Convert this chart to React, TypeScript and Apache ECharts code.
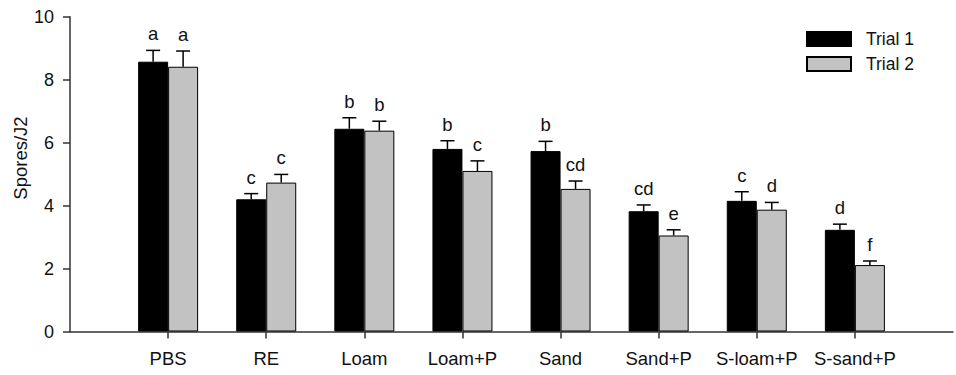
import React, { useEffect, useRef } from "react";
import * as echarts from "echarts";

const categories = ["PBS", "RE", "Loam", "Loam+P", "Sand", "Sand+P", "S-loam+P", "S-sand+P"];
const trial1 = [8.57, 4.2, 6.44, 5.8, 5.73, 3.82, 4.15, 3.23];
const trial1Err = [0.36, 0.18, 0.35, 0.26, 0.31, 0.2, 0.29, 0.18];
const trial1Letters = ["a", "c", "b", "b", "b", "cd", "c", "d"];
const trial2 = [8.41, 4.73, 6.38, 5.1, 4.53, 3.05, 3.87, 2.11];
const trial2Err = [0.5, 0.26, 0.3, 0.32, 0.25, 0.18, 0.23, 0.13];
const trial2Letters = ["a", "c", "b", "c", "cd", "e", "d", "f"];
const yTicks = [0, 2, 4, 6, 8, 10];

const FONT = "'Liberation Sans', Arial, sans-serif";

export default function App() {
  const ref = useRef<HTMLDivElement>(null);
  useEffect(() => {
    if (!ref.current) return;
    const chart = echarts.init(ref.current, undefined, { renderer: "svg" });
    const axisCats = ["", ...categories, ""];
    const pad = (arr: number[]) => ["-", ...arr, "-"];

    const errData = (vals: number[], errs: number[], letters: string[]) =>
      vals.map((v, i) => [i + 1, v, errs[i], letters[i]]);

    const makeErr = (name: string, offset: number, data: any[]) => ({
      type: "custom",
      name: name + "-err",
      data,
      encode: { x: 0, y: 1 },
      z: 5,
      renderItem: (params: any, api: any) => {
        const idx = api.value(0);
        const v = api.value(1);
        const e = api.value(2);
        const letter = data[params.dataIndex][3];
        const base = api.coord([idx, v]);
        const top = api.coord([idx, v + e]);
        const x = base[0] + offset;
        const lineStyle = { stroke: "#000", lineWidth: 1.5 };
        return {
          type: "group",
          children: [
            { type: "line", shape: { x1: x, y1: base[1], x2: x, y2: top[1] }, style: lineStyle },
            { type: "line", shape: { x1: x - 7, y1: top[1], x2: x + 7, y2: top[1] }, style: lineStyle },
            {
              type: "text",
              x: x,
              y: top[1] - 7,
              style: {
                text: letter,
                fill: "#111",
                font: "18.5px " + FONT,
                align: "center",
                verticalAlign: "bottom",
              },
            },
          ],
        };
      },
    });

    chart.setOption({
      animation: false,
      grid: { left: 70, top: 16.7, width: 893, bottom: 43.5 },
      legend: {
        data: ["Trial 1", "Trial 2"],
        orient: "vertical",
        left: 801,
        top: 25,
        itemWidth: 44,
        itemHeight: 14,
        itemGap: 7,
        icon: "rect",
        textStyle: { fontFamily: FONT, fontSize: 17.5, color: "#111", padding: [0, 0, 0, 10] },
      },
      xAxis: {
        type: "category",
        data: axisCats,
        boundaryGap: false,
        axisLine: { lineStyle: { color: "#333", width: 1.5 } },
        axisTick: {
          show: true,
          length: 7,
          interval: (i: number) => i > 0 && i < axisCats.length - 1,
          lineStyle: { color: "#333", width: 1.5 },
        },
        axisLabel: { interval: 0, margin: 17, color: "#111", fontFamily: FONT, fontSize: 18.5 },
        splitLine: { show: false },
      },
      yAxis: {
        type: "value",
        min: yTicks[0],
        max: yTicks[yTicks.length - 1],
        interval: 2,
        axisLine: { show: true, lineStyle: { color: "#333", width: 1.5 } },
        axisTick: { show: true, length: 7, lineStyle: { color: "#333", width: 1.5 } },
        axisLabel: { margin: 16, color: "#111", fontFamily: FONT, fontSize: 18 },
        splitLine: { show: false },
      },
      graphic: [
        {
          type: "text",
          x: 20,
          y: 158,
          rotation: Math.PI / 2,
          style: {
            text: "Spores/J2",
            fill: "#111",
            font: "18.5px " + FONT,
            align: "center",
            verticalAlign: "middle",
          },
        },
      ],
      series: [
        {
          type: "bar",
          name: "Trial 1",
          data: pad(trial1),
          barWidth: 30,
          barGap: "0%",
          itemStyle: { color: "#000", borderColor: "#000", borderWidth: 1 },
        },
        {
          type: "bar",
          name: "Trial 2",
          data: pad(trial2),
          barWidth: 30,
          barGap: "0%",
          itemStyle: { color: "#c2c2c2", borderColor: "#000", borderWidth: 1 },
        },
        makeErr("Trial 1", -15, errData(trial1, trial1Err, trial1Letters)),
        makeErr("Trial 2", 15, errData(trial2, trial2Err, trial2Letters)),
      ],
    });
    return () => chart.dispose();
  }, []);
  return (
    <div
      ref={ref}
      style={{ position: "fixed", left: 0, top: 0, width: 956, height: 375, background: "#fff" }}
    />
  );
}
